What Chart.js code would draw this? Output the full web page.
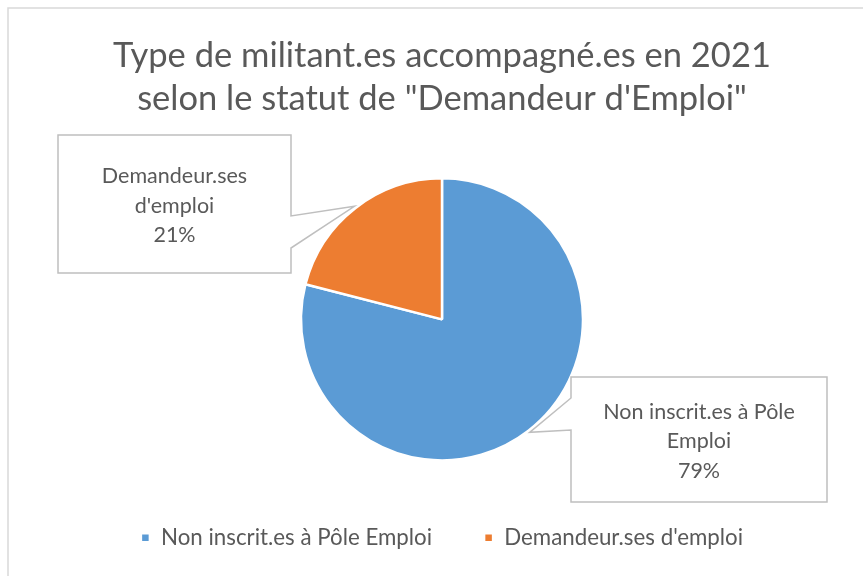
<!DOCTYPE html>
<html>
<head>
<meta charset="utf-8">
<script src="https://cdn.jsdelivr.net/npm/chart.js@4/dist/chart.umd.min.js"></script>
<style>
  html, body { margin: 0; padding: 0; background: #fff; }
  #wrap { width: 863px; height: 576px; position: relative; }
</style>
</head>
<body>
<div id="wrap"><canvas id="pie"></canvas></div>
<script>
// ---- data ----
var categories = ['Non inscrit.es à Pôle Emploi', "Demandeur.ses d'emploi"];
var shares = [79, 21];
var sliceColors = ['#5B9BD5', '#ED7D31'];
var titleLines = ['Type de militant.es accompagné.es en 2021', 'selon le statut de "Demandeur d\'Emploi"'];

var FONT = 'Lato, "Open Sans", sans-serif';
var TEXT = '#595959';

// callout boxes (layout only): slice index, box rect, where the pointer leaves the box
var callouts = [
  { slice: 1, x: 58, y: 135, w: 233, h: 138, side: 'right', b1: 81, b2: 113 },
  { slice: 0, x: 571, y: 377, w: 256, h: 125, side: 'left', b1: 21, b2: 53 }
];

function wrapText(ctx, text, maxW) {
  var words = text.split(' '), lines = [], cur = '';
  words.forEach(function (w) {
    var t = cur ? cur + ' ' + w : w;
    if (ctx.measureText(t).width > maxW && cur) { lines.push(cur); cur = w; }
    else cur = t;
  });
  if (cur) lines.push(cur);
  return lines;
}

var framePlugin = {
  id: 'frame',
  beforeDraw: function (chart) {
    var ctx = chart.ctx;
    ctx.save();
    ctx.strokeStyle = '#D9D9D9';
    ctx.lineWidth = 1.5;
    ctx.beginPath();
    ctx.moveTo(8, chart.height + 2);
    ctx.lineTo(8, 8);
    ctx.lineTo(chart.width + 2, 8);
    ctx.stroke();
    ctx.restore();
  }
};

var calloutPlugin = {
  id: 'callouts',
  afterDatasetsDraw: function (chart) {
    var ctx = chart.ctx;
    var meta = chart.getDatasetMeta(0);
    var data = chart.data.datasets[0].data;
    var total = data.reduce(function (a, v) { return a + v; }, 0);
    callouts.forEach(function (c) {
      var i = c.slice;
      var arc = meta.data[i];
      var p = arc.getProps(['x', 'y', 'startAngle', 'endAngle', 'outerRadius'], true);
      var mid = (p.startAngle + p.endAngle) / 2;
      var tx = p.x + Math.cos(mid) * (p.outerRadius + 2);
      var ty = p.y + Math.sin(mid) * (p.outerRadius + 2);

      ctx.save();
      ctx.beginPath();
      if (c.side === 'right') {
        ctx.moveTo(c.x, c.y);
        ctx.lineTo(c.x + c.w, c.y);
        ctx.lineTo(c.x + c.w, c.y + c.b1);
        ctx.lineTo(tx, ty);
        ctx.lineTo(c.x + c.w, c.y + c.b2);
        ctx.lineTo(c.x + c.w, c.y + c.h);
        ctx.lineTo(c.x, c.y + c.h);
      } else {
        ctx.moveTo(c.x, c.y);
        ctx.lineTo(c.x + c.w, c.y);
        ctx.lineTo(c.x + c.w, c.y + c.h);
        ctx.lineTo(c.x, c.y + c.h);
        ctx.lineTo(c.x, c.y + c.b2);
        ctx.lineTo(tx, ty);
        ctx.lineTo(c.x, c.y + c.b1);
      }
      ctx.closePath();
      ctx.fillStyle = '#FFFFFF';
      ctx.fill();
      ctx.strokeStyle = '#BFBFBF';
      ctx.lineWidth = 1.5;
      ctx.stroke();

      ctx.font = '21.5px ' + FONT;
      ctx.fillStyle = TEXT;
      ctx.textAlign = 'center';
      ctx.textBaseline = 'middle';
      var lines = wrapText(ctx, chart.data.labels[i], c.w - 30);
      lines.push(Math.round(data[i] / total * 100) + '%');
      var lh = 29.5;
      var cy = c.y + c.h / 2 + 2 - (lines.length - 1) * lh / 2;
      lines.forEach(function (l, k) {
        ctx.fillText(l, c.x + c.w / 2, cy + k * lh);
      });
      ctx.restore();
    });
  }
};

new Chart(document.getElementById('pie'), {
  type: 'pie',
  data: {
    labels: categories,
    datasets: [{
      data: shares,
      backgroundColor: sliceColors,
      borderColor: '#FFFFFF',
      borderWidth: 2.5,
      radius: 141
    }]
  },
  options: {
    responsive: true,
    maintainAspectRatio: false,
    animation: false,
    layout: { padding: { left: 21, right: 0, top: 0, bottom: 17 } },
    plugins: {
      title: {
        display: true,
        text: titleLines,
        color: TEXT,
        font: { family: FONT, size: 34.5, weight: 'normal', lineHeight: 1.247 },
        padding: { top: 34, bottom: 44 }
      },
      legend: {
        position: 'bottom',
        labels: {
          color: TEXT,
          font: { family: FONT, size: 22.3 },
          boxWidth: 9,
          boxHeight: 9,
          padding: 52
        }
      },
      tooltip: { enabled: false }
    }
  },
  plugins: [framePlugin, calloutPlugin]
});
</script>
</body>
</html>
